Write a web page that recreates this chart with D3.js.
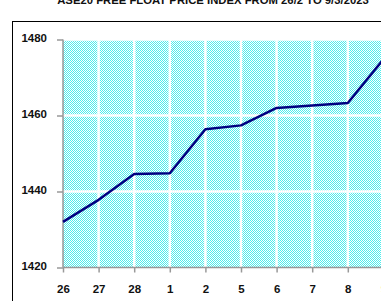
<!DOCTYPE html>
<html>
<head>
<meta charset="utf-8">
<script src="https://cdn.jsdelivr.net/npm/d3@7"></script>
<style>
  body { margin: 0; background: #fff; overflow: hidden; }
  svg { display: block; }
  .tick-label { font-family: "Liberation Sans", Arial, sans-serif; font-weight: bold; font-size: 11.5px; fill: #111; }
  .title { font-family: "Liberation Sans", Arial, sans-serif; font-weight: bold; font-size: 11.3px; fill: #111; }
</style>
</head>
<body>
<div id="root"></div>
<script>
// chart data
const days = ["26", "27", "28", "1", "2", "5", "6", "7", "8", "9"];
const indexValues = [1432.0, 1437.8, 1444.6, 1444.8, 1456.4, 1457.4, 1462.0, 1462.6, 1463.3, 1474.8];
const yTicks = [1420, 1440, 1460, 1480];
const titleText = "ASE20 FREE FLOAT PRICE INDEX FROM 26/2 TO 9/3/2023";

function drawChart() {
	const width = 381;
	const height = 301;

	const svg = d3.select("#root")
		.append("svg")
		.attr("width", width)
		.attr("height", height);

	// checker pattern for the plot area
	const defs = svg.append("defs");
	const pat = defs.append("pattern")
		.attr("id", "checker")
		.attr("width", 2)
		.attr("height", 2)
		.attr("patternUnits", "userSpaceOnUse");
	pat.append("rect").attr("width", 2).attr("height", 2).attr("fill", "#ffffff");
	pat.append("rect").attr("width", 1).attr("height", 1).attr("fill", "#4eecec");
	pat.append("rect").attr("x", 1).attr("y", 1).attr("width", 1).attr("height", 1).attr("fill", "#4eecec");

	// title (partly cut off at the top)
	svg.append("text")
		.attr("class", "title")
		.attr("x", 213)
		.attr("y", 3.5)
		.attr("text-anchor", "middle")
		.text(titleText);

	// outer frame
	svg.append("rect")
		.attr("x", 12.5)
		.attr("y", 21.5)
		.attr("width", 500)
		.attr("height", 500)
		.attr("fill", "none")
		.attr("stroke", "#000")
		.attr("stroke-width", 1);

	const x = d3.scalePoint().domain(days).range([63, 383.4]);
	const y = d3.scaleLinear().domain([1420, 1480]).range([267.5, 39.5]);

	const plotLeft = x(days[0]);
	const plotTop = y(1480);
	const plotBottom = y(1420);

	svg.append("rect")
		.attr("x", plotLeft)
		.attr("y", plotTop)
		.attr("width", 400)
		.attr("height", plotBottom - plotTop)
		.attr("fill", "url(#checker)");

	// white grid lines
	const grid = svg.append("g");
	grid.selectAll(".vgrid")
		.data(days.slice(1))
		.enter()
		.append("line")
		.attr("x1", d => x(d)).attr("x2", d => x(d))
		.attr("y1", plotTop).attr("y2", plotBottom)
		.attr("stroke", "#fff")
		.attr("stroke-width", 2.5);
	grid.selectAll(".hgrid")
		.data(yTicks.slice(1))
		.enter()
		.append("line")
		.attr("x1", plotLeft).attr("x2", 400)
		.attr("y1", d => y(d)).attr("y2", d => y(d))
		.attr("stroke", "#fff")
		.attr("stroke-width", 2.5);

	// axes
	const yAxis = svg.append("g")
		.attr("transform", "translate(" + plotLeft + ",0)")
		.call(d3.axisLeft(y).tickValues(yTicks).tickSize(6).tickFormat(d3.format("d")));
	const xAxis = svg.append("g")
		.attr("transform", "translate(0," + plotBottom + ")")
		.call(d3.axisBottom(x).tickSize(5));

	[yAxis, xAxis].forEach(ax => {
		ax.select(".domain").attr("stroke", "#999").attr("stroke-width", 1.5);
		ax.selectAll(".tick line").attr("stroke", "#999").attr("stroke-width", 1.5);
		ax.selectAll(".tick text").attr("class", "tick-label").attr("font-family", null).attr("font-size", null);
	});
	yAxis.select(".domain").attr("d", "M0," + plotTop + "V" + plotBottom);
	yAxis.selectAll(".tick text").attr("x", -16).attr("dy", "0.2em");
	xAxis.select(".domain").attr("d", "M" + plotLeft + ",0H400");
	xAxis.selectAll(".tick text").attr("y", 20).attr("dy", "0.45em");

	// index line
	const line = d3.line()
		.x((d, i) => x(days[i]))
		.y(d => y(d));
	svg.append("path")
		.datum(indexValues)
		.attr("d", line)
		.attr("fill", "none")
		.attr("stroke", "#000080")
		.attr("stroke-width", 2.5)
		.attr("stroke-linejoin", "round");
}

function whenDocumentLoaded(action) {
	if (document.readyState === "loading") {
		document.addEventListener("DOMContentLoaded", action);
	} else {
		action();
	}
}

whenDocumentLoaded(drawChart);
</script>
</body>
</html>
